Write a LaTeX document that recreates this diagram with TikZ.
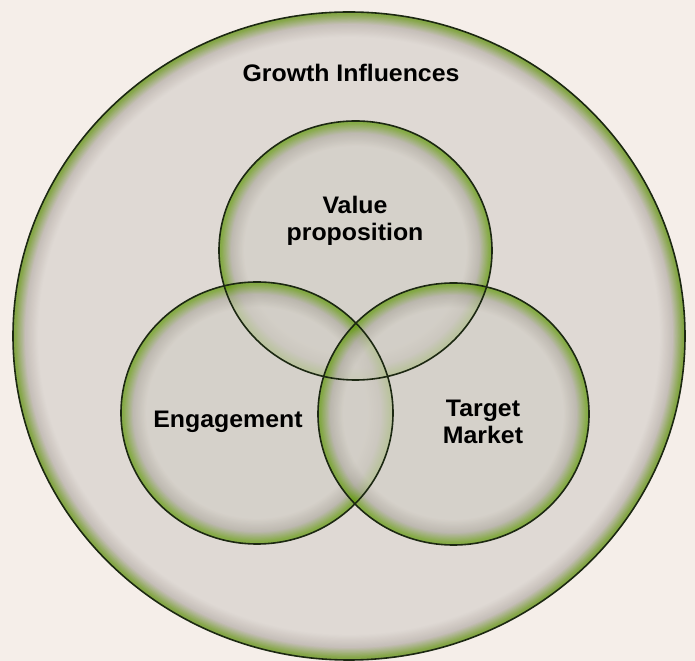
\documentclass[tikz,border=0pt]{standalone}
\usepackage{fontspec}
\setmainfont{Liberation Sans}

% palette
\definecolor{bg}{RGB}{245,238,233}
\definecolor{bigfill}{RGB}{223,217,212}
\definecolor{biggray}{RGB}{198,191,185}
\definecolor{biggreen}{RGB}{132,166,70}
\definecolor{smallfill}{RGB}{210,206,198}
\definecolor{smallgray}{RGB}{176,172,162}
\definecolor{smallgreen}{RGB}{96,152,10}
\definecolor{rim}{RGB}{28,40,18}

% A disc whose inside edge fades from green through grey into the fill.
% #1,#2 centre, #3,#4 radii, #5 fill, #6 grey, #7 green, #8 depth of the fade
\newcommand{\glowdisc}[8]{%
  \begin{scope}
    \clip (#1,#2) ellipse [x radius=#3, y radius=#4];
    \fill[#5] (#1,#2) ellipse [x radius=#3, y radius=#4];
    \foreach \d in {24,23,...,1} {
      \pgfmathtruncatemacro{\pa}{max(0,min(100,(24-\d)/12*100))}
      \pgfmathtruncatemacro{\pb}{max(0,min(100,(12-\d)/9.5*100))}
      \pgfmathsetmacro{\lw}{2*\d*#8/24}
      \colorlet{bandcol}{#6!\pa!#5}
      \ifnum\d<12 \colorlet{bandcol}{#7!\pb!#6}\fi
      \draw[bandcol, line width=\lw bp] (#1,#2) ellipse [x radius=#3, y radius=#4];
    }
  \end{scope}}

\newcommand{\widetxt}[1]{\scalebox{1.04}[1]{#1}}

\tikzset{
  outline/.style={draw=rim, line width=1.6bp},
  bubble/.style={transparency group, opacity=0.7},
  caption/.style={font=\bfseries\fontsize{24}{27}\selectfont, align=center, text=black, inner sep=0pt}
}

\begin{document}
\begin{tikzpicture}[x=1bp, y=1bp]
  \useasboundingbox (0,0) rectangle (695,661);
  \fill[bg] (0,0) rectangle (695,661);

  % outer disc
  \glowdisc{349}{325}{336}{324}{bigfill}{biggray}{biggreen}{26}
  \draw[outline] (349,325) ellipse [x radius=336, y radius=324];

  % three overlapping discs
  \begin{scope}[bubble]
    \glowdisc{355.5}{410.5}{136.5}{129.5}{smallfill}{smallgray}{smallgreen}{26}
  \end{scope}
  \begin{scope}[bubble]
    \glowdisc{257}{248}{136}{131}{smallfill}{smallgray}{smallgreen}{26}
  \end{scope}
  \begin{scope}[bubble]
    \glowdisc{453.5}{247}{135.5}{131}{smallfill}{smallgray}{smallgreen}{26}
  \end{scope}

  \draw[outline] (355.5,410.5) ellipse [x radius=136.5, y radius=129.5];
  \draw[outline] (257,248) ellipse [x radius=136, y radius=131];
  \draw[outline] (453.5,247) ellipse [x radius=135.5, y radius=131];

  % labels
  \node[caption] (growth) at (351,588) {\widetxt{Growth Influences}};
  \node[caption] (value) at (355,440) {\widetxt{Value}\\\widetxt{proposition}};
  \node[caption] (engage) at (228,239) {\widetxt{Engagement}};
  \node[caption] (target) at (483,239) {\widetxt{Target}\\\widetxt{Market}};
\end{tikzpicture}
\end{document}
